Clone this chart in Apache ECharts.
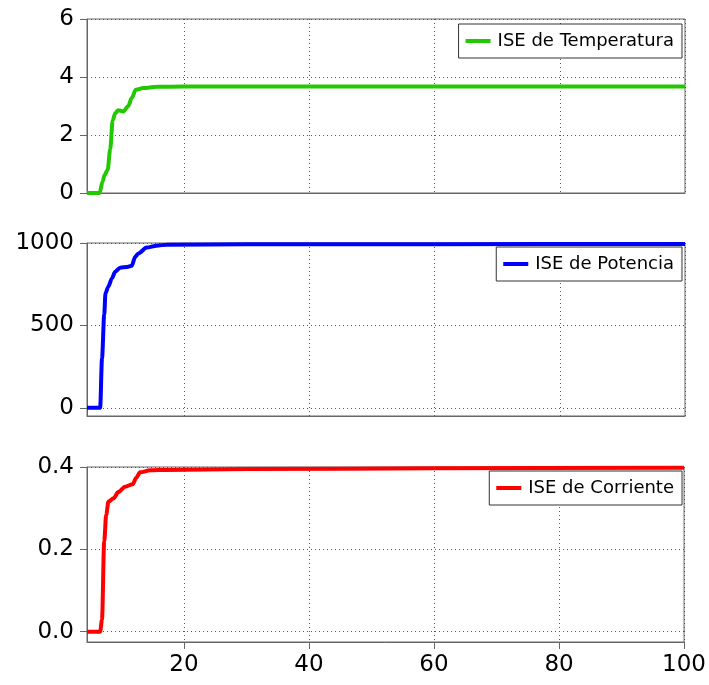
<!DOCTYPE html>
<html>
<head>
<meta charset="utf-8">
<script src="https://cdn.jsdelivr.net/npm/echarts@6/dist/echarts.min.js"></script>
<style>
  html, body { margin: 0; padding: 0; background: #fff; }
  #chart { width: 709px; height: 685px; }
</style>
</head>
<body>
<div id="chart"></div>
<script>
// Time axis shared by the three panels
const xMin = 4.5;
const xMax = 100;
const xTicks = [20, 40, 60, 80, 100];

// ISE de Temperatura
const tempX = [4.5, 6.5, 7.0, 7.3, 7.8, 8.2, 8.6, 9.0, 9.5, 10.3, 11.1, 11.65, 12.3, 13.5, 15.6, 20, 40, 60, 80, 100];
const tempY = [0, 0, 0.4, 0.62, 0.8, 1.5, 2.5, 2.75, 2.85, 2.81, 3.0, 3.28, 3.56, 3.62, 3.66, 3.67, 3.67, 3.67, 3.67, 3.67];
const tempTicks = [0, 2, 4, 6];

// ISE de Potencia
const powX = [4.5, 6.6, 6.9, 7.25, 7.45, 7.9, 8.5, 9.0, 9.8, 10.9, 11.65, 12.2, 12.7, 14.05, 15.6, 17.2, 30, 60, 100];
const powY = [0, 0, 301, 564, 695, 735, 786, 826, 850, 855, 862, 917, 937, 972, 984, 990, 992, 993, 994];
const powTicks = [0, 500, 1000];

// ISE de Corriente
const curX = [4.5, 6.6, 6.9, 7.25, 7.57, 7.94, 8.75, 9.5, 10.6, 11.8, 12.35, 13, 14.6, 17.2, 30, 60, 100];
const curY = [0, 0, 0.029, 0.219, 0.284, 0.316, 0.324, 0.339, 0.352, 0.358, 0.373, 0.387, 0.392, 0.393, 0.395, 0.397, 0.398];
const curTicks = [0, 0.2, 0.4];

const names = ['ISE de Temperatura', 'ISE de Potencia', 'ISE de Corriente'];
const colors = ['#22c800', '#0000ff', '#ff0000'];

const FONT = 'DejaVu Sans';
const frame = '#666';
const dots = { type: [1, 3], color: '#555', width: 1 };

const pairs = (xs, ys) => xs.map((x, i) => [x, ys[i]]);

const grids = [
  { left: 87, right: 24, top: 19, height: 174 },
  { left: 87, right: 24, top: 243, height: 173 },
  { left: 87, right: 24, top: 467, height: 175 }
].map(g => Object.assign({ show: true, borderColor: frame, borderWidth: 1, backgroundColor: 'transparent' }, g));

function xAxis(i, labels) {
  return {
    type: 'value', gridIndex: i, min: xMin, max: xMax,
    axisLine: { show: true, onZero: false, lineStyle: { color: frame, width: 1 } },
    axisTick: { show: labels, customValues: xTicks, length: 7, lineStyle: { color: frame } },
    axisLabel: { show: labels, customValues: xTicks, margin: 12, fontFamily: FONT, fontSize: 23, color: '#000' },
    splitLine: { show: true, lineStyle: dots }
  };
}

function yAxis(i, min, max, ticks, fmt) {
  return {
    type: 'value', gridIndex: i, min: min, max: max,
    axisLine: { show: true, onZero: false, lineStyle: { color: frame, width: 1 } },
    axisTick: { show: true, customValues: ticks, length: 7, lineStyle: { color: frame } },
    axisLabel: { customValues: ticks, margin: 13, fontFamily: FONT, fontSize: 23, color: '#000', formatter: fmt },
    splitLine: { show: true, lineStyle: dots }
  };
}

const legendTops = [24, 247, 471];

const option = {
  animation: false,
  backgroundColor: '#fff',
  grid: grids,
  xAxis: [xAxis(0, false), xAxis(1, false), xAxis(2, true)],
  yAxis: [
    yAxis(0, 0, 6, tempTicks, v => String(v)),
    yAxis(1, -50, 1000, powTicks, v => String(v)),
    yAxis(2, -0.025, 0.4, curTicks, v => v.toFixed(1))
  ],
  legend: names.map((n, i) => ({
    data: [n],
    right: 27,
    top: legendTops[i],
    orient: 'vertical',
    backgroundColor: '#fff',
    borderColor: '#333',
    borderWidth: 1,
    borderRadius: 0,
    padding: [8, 8, 8, 7],
    itemWidth: 25,
    itemHeight: 4,
    itemGap: 0,
    icon: 'rect',
    textStyle: { fontFamily: FONT, fontSize: 18, color: '#000', padding: [0, 0, 0, 2] }
  })),
  series: [
    [tempX, tempY], [powX, powY], [curX, curY]
  ].map((d, i) => ({
    name: names[i],
    type: 'line',
    xAxisIndex: i,
    yAxisIndex: i,
    data: pairs(d[0], d[1]),
    showSymbol: false,
    smooth: 0.3,
    smoothMonotone: 'x',
    color: colors[i],
    lineStyle: { color: colors[i], width: 4 },
    clip: false
  }))
};

const chart = echarts.init(document.getElementById('chart'), null, { renderer: 'canvas' });
chart.setOption(option);
</script>
</body>
</html>
